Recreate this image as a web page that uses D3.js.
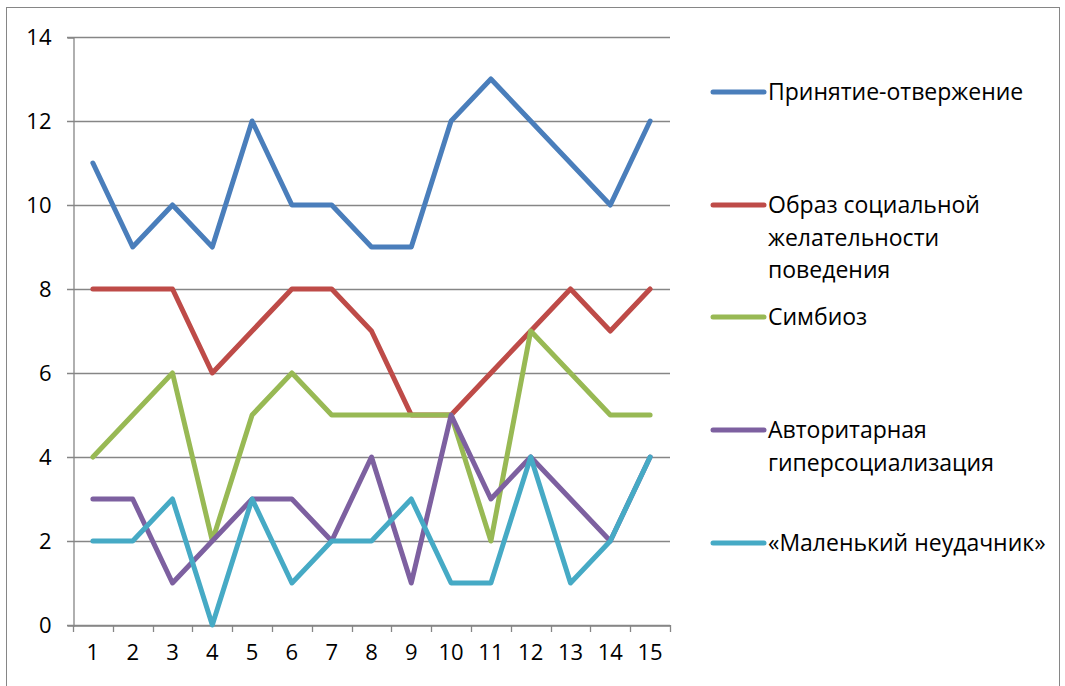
<!DOCTYPE html>
<html>
<head>
<meta charset="utf-8">
<script src="https://cdn.jsdelivr.net/npm/d3@7"></script>
<style>
  body { margin: 0; background: #fff; }
  svg text { font-family: "Open Sans", sans-serif; fill: #000; }
</style>
</head>
<body>
<svg id="chart" width="1065" height="686"></svg>
<script>
// categories and series
var categories = ["1","2","3","4","5","6","7","8","9","10","11","12","13","14","15"];
var seriesNames = [
    ["Принятие-отвержение"],
    ["Образ социальной", "желательности", "поведения"],
    ["Симбиоз"],
    ["Авторитарная", "гиперсоциализация"],
    ["«Маленький неудачник»"]
];
var acceptance = [11, 9, 10, 9, 12, 10, 10, 9, 9, 12, 13, 12, 11, 10, 12];
var socialImage = [8, 8, 8, 6, 7, 8, 8, 7, 5, 5, 6, 7, 8, 7, 8];
var symbiosis = [4, 5, 6, 2, 5, 6, 5, 5, 5, 5, 2, 7, 6, 5, 5];
var authoritarian = [3, 3, 1, 2, 3, 3, 2, 4, 1, 5, 3, 4, 3, 2, 4];
var littleLoser = [2, 2, 3, 0, 3, 1, 2, 2, 3, 1, 1, 4, 1, 2, 4];
var yTicks = [0, 2, 4, 6, 8, 10, 12, 14];

var allSeries = [acceptance, socialImage, symbiosis, authoritarian, littleLoser];
var colors = ["#4a7ebb", "#be4b48", "#98b954", "#7d60a0", "#46aac5"];

var svg = d3.select("#chart");

// outer chart border
svg.append("rect")
    .attr("x", 6.5).attr("y", 7.5)
    .attr("width", 1053).attr("height", 700)
    .attr("fill", "none")
    .attr("stroke", "#868686")
    .attr("stroke-width", 1);

var plotLeft = 73, plotRight = 670, plotTop = 37, plotBottom = 625;

var x = d3.scaleBand().domain(categories).range([plotLeft, plotRight]);
var y = d3.scaleLinear().domain([0, 14]).range([plotBottom, plotTop]);

// gridlines
svg.append("g").selectAll("line")
    .data(yTicks)
    .join("line")
    .attr("x1", plotLeft - 6).attr("x2", plotRight)
    .attr("y1", d => Math.round(y(d)) + 0.5)
    .attr("y2", d => Math.round(y(d)) + 0.5)
    .attr("stroke", "#868686")
    .attr("stroke-width", 1.3);

// y axis
var yAxis = svg.append("g")
    .attr("transform", "translate(" + (plotLeft + 0.5) + ",0.5)")
    .call(d3.axisLeft(y).tickValues(yTicks).tickSize(6).tickPadding(16));
yAxis.select(".domain").attr("stroke", "#868686").attr("stroke-width", 1.3);
yAxis.selectAll(".tick line").attr("stroke", "none");
yAxis.selectAll("text").attr("font-size", 22).attr("font-family", "Open Sans").attr("fill", "#000");

// x axis
var xAxis = svg.append("g")
    .attr("transform", "translate(0," + (plotBottom + 0.5) + ")")
    .call(d3.axisBottom(x).tickSize(0).tickPadding(19));
xAxis.select(".domain").attr("stroke", "#868686").attr("stroke-width", 1.3);
xAxis.selectAll("text").attr("font-size", 22).attr("font-family", "Open Sans").attr("fill", "#000");

// tick marks on band boundaries
var boundaries = categories.map(c => x(c)).concat([plotRight]);
svg.append("g").selectAll("line")
    .data(boundaries)
    .join("line")
    .attr("x1", d => Math.round(d) + 0.5).attr("x2", d => Math.round(d) + 0.5)
    .attr("y1", plotBottom).attr("y2", plotBottom + 7)
    .attr("stroke", "#868686")
    .attr("stroke-width", 1.3);

// lines
var line = d3.line()
    .x((d, i) => x(categories[i]) + x.bandwidth() / 2)
    .y(d => y(d));

allSeries.forEach(function(values, i) {
    svg.append("path")
        .datum(values)
        .attr("d", line)
        .attr("fill", "none")
        .attr("stroke", colors[i])
        .attr("stroke-width", 5)
        .attr("stroke-linejoin", "round")
        .attr("stroke-linecap", "round");
});

// legend
var legendY = [92, 205, 317, 430, 543];
var legend = svg.append("g");
seriesNames.forEach(function(lines, i) {
    legend.append("line")
        .attr("x1", 713).attr("x2", 764)
        .attr("y1", legendY[i]).attr("y2", legendY[i])
        .attr("stroke", colors[i])
        .attr("stroke-width", 5)
        .attr("stroke-linecap", "round");
    var t = legend.append("text")
        .attr("x", 768)
        .attr("y", legendY[i] + 8)
        .attr("font-size", 23);
    lines.forEach(function(s, j) {
        t.append("tspan").attr("x", 768).attr("dy", j == 0 ? 0 : 32.5).text(s);
    });
});
</script>
</body>
</html>
